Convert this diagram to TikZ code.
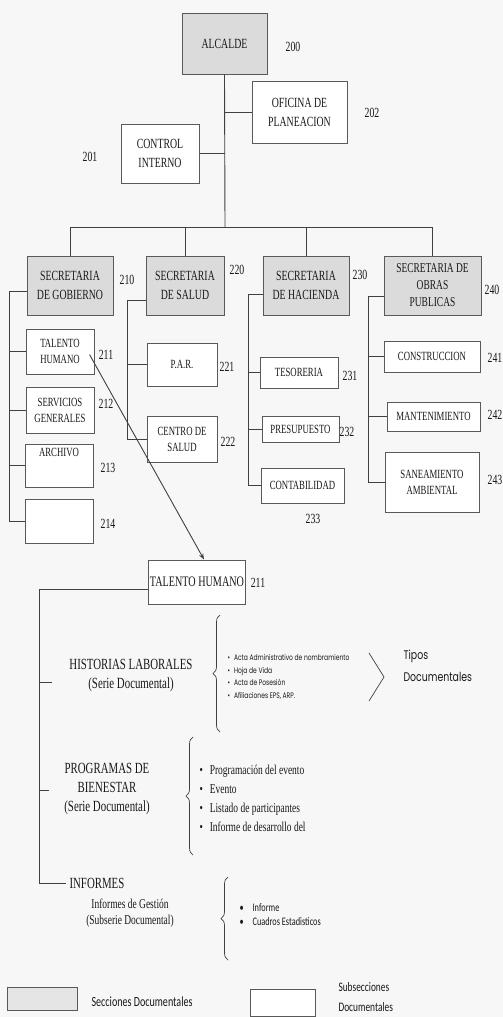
\documentclass[tikz,border=0pt]{standalone}
\usepackage{fontspec}
\setmainfont{Liberation Serif}[FakeStretch=0.7]
\newfontfamily\calfont{Carlito}[FakeStretch=0.72]
\newfontfamily\gothfont{Poppins}[FakeStretch=0.75]
\usepackage{tikz}
\usetikzlibrary{arrows.meta,positioning,decorations.pathreplacing}

\begin{document}
\begin{tikzpicture}[
  x = 1pt, y = -1pt,
  every node/.style = {font=\fontsize{14}{19}\selectfont, text=black!90},
  sec_block/.style = {rectangle, draw=black!65, line width=1pt, fill=black!14,
    align=center, inner sep=1pt},
  sub_block/.style = {sec_block, fill=white},
  wh/.style 2 args = {minimum width=#1, minimum height=#2},
  num/.style = {font=\fontsize{14}{16}\selectfont},
  head/.style = {align=center, font=\fontsize{15.5}{19}\selectfont},
  conn/.style = {draw=black!75, line width=0.9pt},
  arr/.style = {conn, -{Stealth[length=6pt,width=4.5pt]}},
  brc/.style = {draw=black!75, line width=0.7pt, decorate,
    decoration={brace, amplitude=7pt}}
]
\fill[black!3] (0,0) rectangle (503,1017);
\useasboundingbox (0,0) rectangle (503,1017);

% top level
\node[sec_block, wh={85}{61}] (alcalde) at (224.5,43.5) {ALCALDE};
\node[sub_block, wh={95}{62}] (oficina) at (299.5,112) {OFICINA DE\\PLANEACION};
\node[sub_block, wh={78}{59}] (control) at (160,153.5) {CONTROL\\INTERNO};
\node[num] at (293,47)  {200};
\node[num] at (372,113) {202};
\node[num] at (90,157)  {201};

% secretarias
\node[sec_block, wh={86}{59}] (gobierno) at (70,285.5)   {SECRETARIA\\DE GOBIERNO};
\node[sec_block, wh={78}{59}] (salud)    at (185,285.5)  {SECRETARIA\\DE SALUD};
\node[sec_block, wh={86}{59}] (hacienda) at (306,285.5)  {SECRETARIA\\DE HACIENDA};
\node[sec_block, wh={97}{59}, font=\fontsize{13.5}{17}\selectfont] (obras) at (432.5,285.5)
  {SECRETARIA DE\\OBRAS\\PUBLICAS};
\node[num] at (127,280) {210};
\node[num] at (237,270) {220};
\node[num] at (360,275) {230};
\node[num] at (492,290) {240};

\coordinate (bus) at (225,227);
\draw[conn] (alcalde.south) -- (bus);
\draw[conn] (oficina.west) -- (oficina.west -| bus);
\draw[conn] (control.east) -- (control.east -| bus);
\draw[conn] (gobierno.north) |- (obras.north |- bus) -- (obras.north);
\draw[conn] (salud.north) -- (salud.north |- bus);
\draw[conn] (hacienda.north) -- (hacienda.north |- bus);

% subsecciones
\begin{scope}[every node/.style = {font=\fontsize{12.5}{16}\selectfont, text=black!90}]
\node[sub_block, wh={68}{45}] (th211) at (60,351.5) {TALENTO\\HUMANO};
\node[sub_block, wh={68}{46}] (sg212) at (60,410)   {SERVICIOS\\GENERALES};
\node[sub_block, wh={68}{43}] (ar213) at (59,465.5) {ARCHIVO\\[10pt]};
\node[sub_block, wh={68}{44}] (e214)  at (59,521)   {};
\node[sub_block, wh={70}{43}] (par221) at (182,364.5) {P.A.R.};
\node[sub_block, wh={70}{46}] (cs222)  at (182,439)   {CENTRO DE\\SALUD};
\node[sub_block, wh={78}{31}] (tes231) at (299,372.5) {TESORERIA};
\node[sub_block, wh={77}{26}] (pre232) at (300.5,429) {PRESUPUESTO};
\node[sub_block, wh={83}{35}] (con233) at (302.5,485.5) {CONTABILIDAD};
\node[sub_block, wh={96}{31}] (cons241) at (432,356.5) {CONSTRUCCION};
\node[sub_block, wh={93}{29}] (man242)  at (433.5,416.5) {MANTENIMIENTO};
\node[sub_block, wh={94}{60}] (san243)  at (432,482)   {SANEAMIENTO\\AMBIENTAL};
\end{scope}
\node[num] at (106,355) {211};
\node[num] at (106,404) {212};
\node[num] at (108,468) {213};
\node[num] at (108,524) {214};
\node[num] at (227,367) {221};
\node[num] at (228,442) {222};
\node[num] at (350,376) {231};
\node[num] at (347,432) {232};
\node[num] at (313,519) {233};
\node[num] at (495,358) {241};
\node[num] at (495,415) {242};
\node[num] at (495,480) {243};

\draw[conn] ([yshift=-6pt]gobierno.west) -- ++(-17,0) coordinate (gv) |- (e214.west);
\foreach \n in {th211, sg212, ar213}
  \draw[conn] (gv |- \n.west) -- (\n.west);
\draw[conn] ([yshift=-15pt]salud.west) -- ++(-18,0) coordinate (sv) |- (cs222.west);
\draw[conn] (sv |- par221.west) -- (par221.west);
\draw[conn] ([yshift=-9pt]hacienda.west) -- ++(-14,0) coordinate (hv) |- (con233.west);
\foreach \n in {tes231, pre232}
  \draw[conn] (hv |- \n.west) -- (\n.west);
\draw[conn] ([yshift=-11pt]obras.west) -- ++(-15,0) coordinate (ov) |- (san243.west);
\foreach \n in {cons241, man242}
  \draw[conn] (ov |- \n.west) -- (\n.west);

% talento humano
\node[sub_block, wh={82}{44}, font=\fontsize{14.5}{18}\selectfont] (thbig) at (197,582) {TALENTO HUMANO};
\node[num] at (258,583) {211};
\draw[arr] ([xshift=-5pt,yshift=-3pt]th211.east) -- ([xshift=7pt]thbig.north);

\node[head] (hl) at (131,676) {HISTORIAS LABORALES\\(Serie Documental)};
\node[head] (pb) at (107,789) {PROGRAMAS DE\\BIENESTAR\\(Serie Documental)};
\node[head, anchor=west] (inf) at (66,883) {INFORMES};
\node[align=center, font=\fontsize{13.5}{16}\selectfont] (ig) at (130,913)
  {Informes de Gestión\\(Subserie Documental)};

\draw[conn] ([yshift=-7pt]thbig.west) -- ++(-109,0) coordinate (tv) |- (inf.west);
\draw[conn] (tv |- 0,682) -- ++(13,0);
\draw[conn] (tv |- 0,790) -- ++(10,0);

% tipos documentales
\draw[brc] (220,732) -- (220,615);
\node[anchor=west, align=left, font=\gothfont\fontsize{8}{12.6}\selectfont] (tl1) at (224,677)
  {\textbullet\hspace{4pt}Acta Administrativo de nombramiento\\
   \textbullet\hspace{4pt}Hoja de Vida\\
   \textbullet\hspace{4pt}Acta de Posesión\\
   \textbullet\hspace{4pt}Afiliaciones EPS, ARP.};
\draw[conn, line width=0.7pt] (369,653) -- (384,677) -- (369,701);
\node[anchor=west, align=left, font=\gothfont\fontsize{12.5}{22}\selectfont] (tipos) at (400,666)
  {Tipos\\Documentales};

\draw[brc] (193,855) -- (193,737);
\node[anchor=west, align=left, font=\fontsize{13.5}{19}\selectfont] (tl2) at (196,798)
  {\textbullet\hspace{7pt}Programación del evento\\
   \textbullet\hspace{7pt}Evento\\
   \textbullet\hspace{7pt}Listado de participantes\\
   \textbullet\hspace{7pt}Informe de desarrollo del};

\draw[brc] (228,960) -- (228,877);
\node[anchor=west, align=left, font=\calfont\fontsize{11.5}{14}\selectfont] (tl3) at (236,915)
  {\textbullet\hspace{9pt}Informe\\
   \textbullet\hspace{9pt}Cuadros Estadisticos};

% leyenda
\node[sec_block, wh={70}{23}, fill=black!10] (legsec) at (42,998.5) {};
\node[anchor=west, font=\calfont\fontsize{14}{16}\selectfont] at (88,1002) {Secciones Documentales};
\node[sub_block, wh={65}{27}] (legsub) at (282.5,1002.5) {};
\node[anchor=west, align=left, font=\calfont\fontsize{13}{20}\selectfont] at (335,997)
  {Subsecciones\\Documentales};
\end{tikzpicture}
\end{document}
